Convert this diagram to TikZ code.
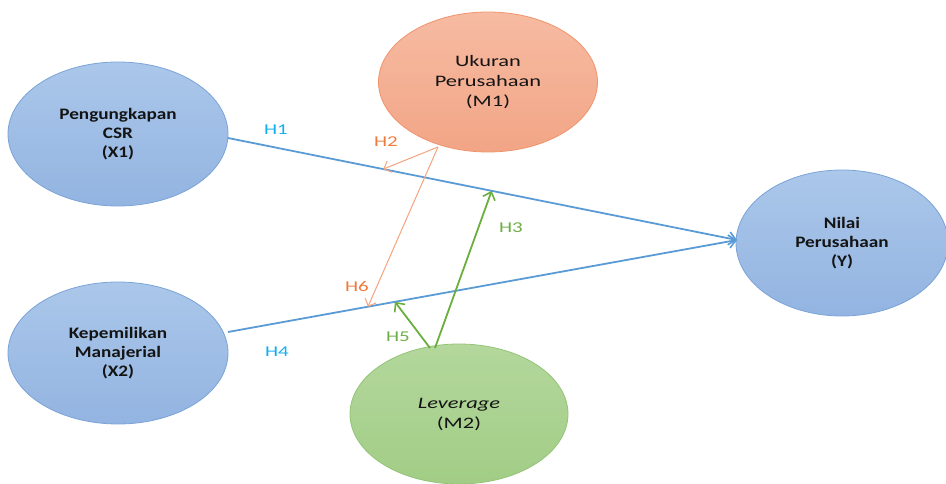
\documentclass[tikz,border=0pt]{standalone}
\usepackage{fontspec}
\setmainfont{Carlito}
\newfontfamily\boldwide[FakeStretch=1.2]{Carlito}
\newfontfamily\regwide[FakeStretch=1.4]{Carlito}
\usetikzlibrary{shapes.geometric,arrows.meta,calc}
\definecolor{bluefillT}{HTML}{ABC7EA}
\definecolor{bluefillB}{HTML}{93B4E1}
\definecolor{blueedge}{HTML}{7AA3D8}
\definecolor{orfillT}{HTML}{F6BBA2}
\definecolor{orfillB}{HTML}{F2A586}
\definecolor{oredge}{HTML}{F0946C}
\definecolor{grfillT}{HTML}{B3D79C}
\definecolor{grfillB}{HTML}{A2CD86}
\definecolor{gredge}{HTML}{94C477}
\definecolor{blueline}{HTML}{5B9BD5}
\definecolor{orline}{HTML}{F4A37E}
\definecolor{grline}{HTML}{6AAE3E}
\definecolor{hcyan}{HTML}{12AEF0}
\definecolor{horange}{HTML}{F07B3C}
\definecolor{hgreen}{HTML}{6DAE45}
\tikzset{
  blob/.style={ellipse, inner sep=0pt, line width=0.8pt, align=center, text=black!92},
  bluenode/.style={blob, top color=bluefillT, bottom color=bluefillB, draw=blueedge,
     font=\boldwide\bfseries\fontsize{16}{19}\selectfont},
  ornode/.style={blob, top color=orfillT, bottom color=orfillB, draw=oredge,
     font=\regwide\fontsize{16}{20}\selectfont},
  grnode/.style={blob, top color=grfillT, bottom color=grfillB, draw=gredge,
     font=\regwide\fontsize{16}{20}\selectfont},
  bluearrow/.style={draw=blueline, line width=1.8pt, -{Straight Barb[length=7pt,width=13pt,line width=1.6pt]}},
  orarrow/.style={draw=orline, line width=1pt, -{Straight Barb[length=6pt,width=12pt,line width=1pt]}},
  grarrow/.style={draw=grline, line width=1.8pt, -{Straight Barb[length=7pt,width=13pt,line width=1.6pt]}},
  hlab/.style={font=\regwide\fontsize{15}{16}\selectfont, inner sep=0pt}
}
\begin{document}
\begin{tikzpicture}[x=1pt,y=-1pt]
\useasboundingbox (0,0) rectangle (946,484);
\node[bluenode, minimum width=220pt, minimum height=144pt] (X1) at (118,134) {Pengungkapan\\CSR\\(X1)};
\node[bluenode, minimum width=220pt, minimum height=142pt] (X2) at (118,353) {Kepemilikan\\Manajerial\\(X2)};
\node[ornode, minimum width=219pt, minimum height=140pt] (M1) at (488,82) {Ukuran\\Perusahaan\\(M1)};
\node[grnode, minimum width=218pt, minimum height=140pt] (M2) at (459,414) {\textit{Leverage}\\(M2)};
\node[bluenode, minimum width=212pt, minimum height=146pt] (Y) at (842,243) {Nilai\\Perusahaan\\(Y)};

\coordinate (x1o) at (228,138);
\coordinate (x2o) at (228,332);
\coordinate (yin) at (737,240);
\coordinate (m1o) at (438,147);
\coordinate (m2a) at (435,348);
\coordinate (m2b) at (430,348);
\coordinate (t2) at ($(x1o)!0.305!(yin)$);
\coordinate (t3) at ($(x1o)!0.518!(yin)$);
\coordinate (t6) at ($(x2o)!0.275!(yin)$);
\coordinate (t5) at ($(x2o)!0.328!(yin)$);

\draw[bluearrow] (x1o) -- (yin);
\draw[bluearrow] (x2o) -- (yin);
\draw[orarrow] (m1o) -- (t2);
\draw[orarrow] (m1o) -- (t6);
\draw[grarrow] (m2a) -- (t3);
\draw[grarrow] (m2b) -- (t5);

\node[hlab, text=hcyan] (h1) at (276,130) {H1};
\node[hlab, text=horange] (h2) at (386,142) {H2};
\node[hlab, text=hgreen] (h3) at (511,228) {H3};
\node[hlab, text=hcyan] (h4) at (277,352) {H4};
\node[hlab, text=hgreen] (h5) at (398,337) {H5};
\node[hlab, text=horange] (h6) at (357,286) {H6};
\end{tikzpicture}
\end{document}
